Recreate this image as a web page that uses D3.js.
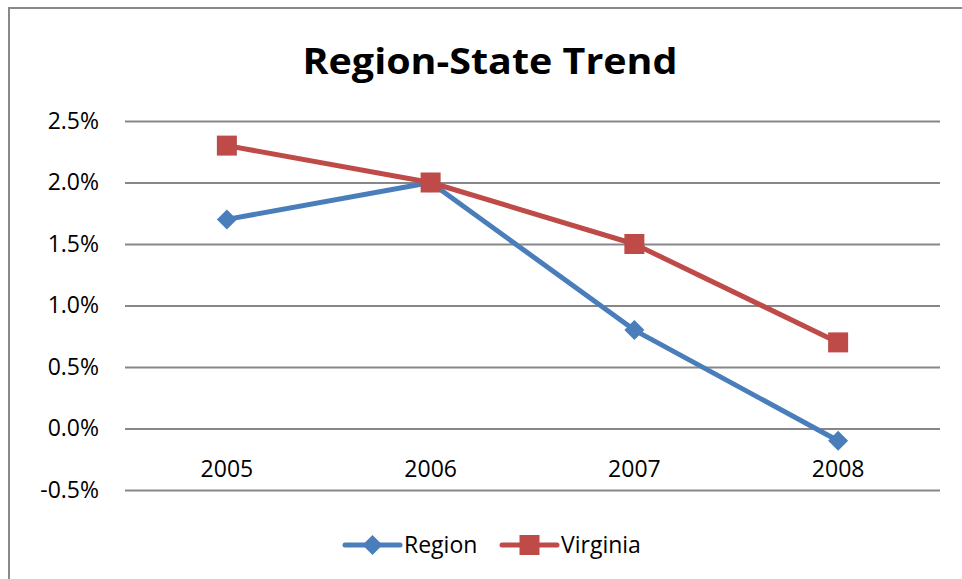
<!DOCTYPE html>
<html>
<head>
<meta charset="utf-8">
<script src="https://cdn.jsdelivr.net/npm/d3@7"></script>
<style>
  body { margin: 0; background: #fff; }
  svg { display: block; }
  text { font-family: "Open Sans", "Liberation Sans", Arial, sans-serif; fill: #000; }
</style>
</head>
<body>
<div id="chart"></div>
<script>
var years = ["2005", "2006", "2007", "2008"];
var region_vals = [1.7, 2.0, 0.8, -0.1];
var virginia_vals = [2.3, 2.0, 1.5, 0.7];
var y_ticks = [-0.5, 0.0, 0.5, 1.0, 1.5, 2.0, 2.5];
var series_names = ["Region", "Virginia"];
var series_colors = ["#4a7ebb", "#be4b48"];

var width = 962, height = 579;
var margin = {top: 121, right: 22, bottom: 89, left: 125};
var font = "'Open Sans', 'Liberation Sans', Arial, sans-serif";

var svg = d3.select("#chart")
    .append("svg")
    .attr("width", width)
    .attr("height", height);

// chart frame (right/bottom edges fall outside the picture)
svg.append("rect")
    .attr("x", 9).attr("y", 8)
    .attr("width", 1000).attr("height", 1000)
    .attr("fill", "none")
    .attr("stroke", "#898989")
    .attr("stroke-width", 2);

var x = d3.scaleBand()
    .domain(years)
    .range([margin.left, width - margin.right]);
var y = d3.scaleLinear()
    .domain([-0.5, 2.5])
    .range([height - margin.bottom, margin.top]);

// gridlines + y labels
var y_axis = svg.append("g")
    .attr("transform", "translate(" + margin.left + ",0)")
    .call(d3.axisLeft(y)
        .tickValues(y_ticks)
        .tickFormat(function(d) { return d3.format(".1f")(d).replace("\u2212", "-") + "%"; })
        .tickSize(-(width - margin.left - margin.right))
        .tickPadding(26));
y_axis.select(".domain").remove();
y_axis.selectAll("line")
    .attr("stroke", "#878787")
    .attr("stroke-width", 2);
y_axis.selectAll("text")
    .attr("font-size", 23)
    .attr("font-family", font)
    .attr("fill", "#000");

// category labels
var x_axis = svg.append("g")
    .attr("transform", "translate(0," + y(0) + ")")
    .call(d3.axisBottom(x).tickSize(0).tickPadding(32));
x_axis.select(".domain").remove();
x_axis.selectAll("text")
    .attr("font-size", 23)
    .attr("font-family", font)
    .attr("fill", "#000");

var line = d3.line()
    .x(function(d, i) { return x(years[i]) + x.bandwidth() / 2; })
    .y(function(d) { return y(d); });

// Region: diamonds
svg.append("path")
    .datum(region_vals)
    .attr("fill", "none")
    .attr("stroke", series_colors[0])
    .attr("stroke-width", 5)
    .attr("stroke-linejoin", "round")
    .attr("d", line);
svg.selectAll(".pt-region")
    .data(region_vals)
    .enter()
    .append("path")
    .attr("class", "pt-region")
    .attr("d", d3.symbol().type(d3.symbolSquare).size(200))
    .attr("fill", series_colors[0])
    .attr("transform", function(d, i) {
        return "translate(" + (x(years[i]) + x.bandwidth() / 2) + "," + y(d) + ") rotate(45)";
    });

// Virginia: squares
svg.append("path")
    .datum(virginia_vals)
    .attr("fill", "none")
    .attr("stroke", series_colors[1])
    .attr("stroke-width", 5)
    .attr("stroke-linejoin", "round")
    .attr("d", line);
svg.selectAll(".pt-virginia")
    .data(virginia_vals)
    .enter()
    .append("rect")
    .attr("class", "pt-virginia")
    .attr("x", function(d, i) { return x(years[i]) + x.bandwidth() / 2 - 10; })
    .attr("y", function(d) { return y(d) - 10; })
    .attr("width", 20)
    .attr("height", 20)
    .attr("fill", series_colors[1]);

// title
svg.append("text")
    .attr("x", 490)
    .attr("y", 74)
    .attr("text-anchor", "middle")
    .attr("font-size", 36)
    .attr("font-weight", "bold")
    .attr("textLength", 375)
    .attr("lengthAdjust", "spacingAndGlyphs")
    .text("Region-State Trend");

// legend
var legend_items = [
    {name: series_names[0], color: series_colors[0], x0: 345},
    {name: series_names[1], color: series_colors[1], x0: 502}
];
var ly = 545;
var lg = svg.append("g");
legend_items.forEach(function(it, i) {
    lg.append("line")
        .attr("x1", it.x0).attr("x2", it.x0 + 55)
        .attr("y1", ly).attr("y2", ly)
        .attr("stroke", it.color)
        .attr("stroke-width", 5)
        .attr("stroke-linecap", "round");
    if (i === 0) {
        lg.append("path")
            .attr("d", d3.symbol().type(d3.symbolSquare).size(200))
            .attr("fill", it.color)
            .attr("transform", "translate(" + (it.x0 + 27.5) + "," + ly + ") rotate(45)");
    } else {
        lg.append("rect")
            .attr("x", it.x0 + 17.5).attr("y", ly - 10)
            .attr("width", 20).attr("height", 20)
            .attr("fill", it.color);
    }
    lg.append("text")
        .attr("x", it.x0 + 59)
        .attr("y", ly)
        .attr("dy", "0.35em")
        .attr("font-size", 23)
        .text(it.name);
});
</script>
</body>
</html>
